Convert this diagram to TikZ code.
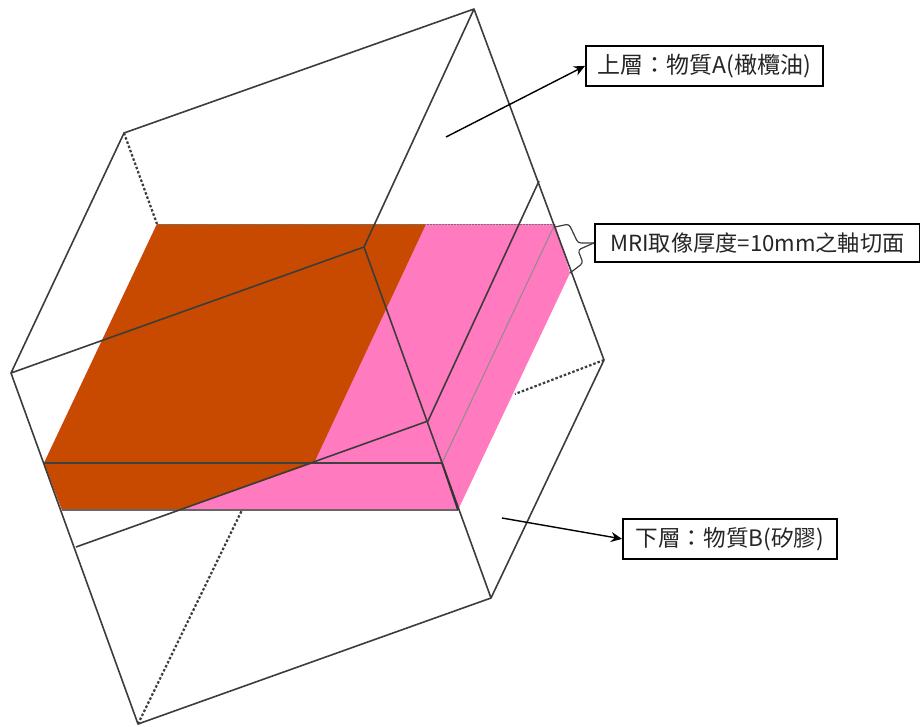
\documentclass[tikz,border=0pt]{standalone}
\usepackage{fontspec}
\setmainfont{Liberation Sans}
\newfontfamily\cjk{Noto Sans CJK TC}
\usetikzlibrary{arrows.meta}
\definecolor{rust}{HTML}{C84A00}
\definecolor{rosa}{HTML}{FF7ABF}
\definecolor{edgeg}{HTML}{3C3C3C}
\tikzset{
  cubeedge/.style={draw=edgeg,line width=1.6pt,line join=round},
  hiddenedge/.style={draw=edgeg,line width=2.2pt,dash pattern=on 2.5pt off 2pt},
  labelbox/.style={draw=black,line width=1.8pt,fill=white,inner sep=0pt,anchor=north west,text=black!85,font=\cjk},
  leader/.style={draw=black,line width=1.4pt,-{Stealth[length=11pt,width=10pt]}}
}
\begin{document}
\begin{tikzpicture}[x=1pt,y=-1pt]
\useasboundingbox (0,0) rectangle (920,726);
% cube corners
\coordinate (tA) at (474,9);
\coordinate (tB) at (124,133);
\coordinate (tC) at (11,373);
\coordinate (tD) at (364,247);
\coordinate (bA) at (604,360);
\coordinate (bC) at (138,724);
\coordinate (bD) at (491,598);
\coordinate (mC) at (76,547);
\coordinate (mD) at (428,421);
\coordinate (mA) at (539,181);
% slab corners
\coordinate (sTL) at (157,224);
\coordinate (sTM) at (426,224);
\coordinate (sTR) at (555,224);
\coordinate (sFL) at (44,463);
\coordinate (sFM) at (314,463);
\coordinate (sFR) at (442,463);
\coordinate (sBL) at (62,510);
\coordinate (sBM) at (180,510);
\coordinate (sBR) at (458,510);
\coordinate (sRR) at (570,273);
% slab
\fill[rosa] (sTL) -- (sTR) -- (sRR) -- (sBR) -- (sBL) -- (sFL) -- cycle;
\fill[rust] (sTL) -- (sTM) -- (sFM) -- (sBM) -- (sBL) -- (sFL) -- cycle;
\draw[black!55,line width=0.8pt,dash pattern=on 1.5pt off 1.5pt] (sTL) -- (sTR);
\draw[black!45,line width=1pt] (sTR) -- (sFR);
\draw[black!60,line width=1.5pt] (sBL) -- (sBR);
\draw[black!75,line width=1.8pt] (sFL) -- (sFR);
% hidden edges
\draw[hiddenedge] (tB) -- (sTL);
\draw[hiddenedge] (bA) -- (515,394);
\draw[hiddenedge] (bC) -- (242,510);
% cube edges
\draw[cubeedge] (tA) -- (tB) -- (tC) -- (tD) -- cycle;
\draw[cubeedge] (tC) -- (bC) -- (bD) -- (bA) -- (tA);
\draw[cubeedge] (tD) -- (bD);
\draw[cubeedge] (mC) -- (mD) -- (mA);
\draw[black!80,line width=1.8pt] (sFR) -- (sBR);
% labels
\node[labelbox,minimum width=237pt,minimum height=40pt] (upper) at (585,45) {\fontsize{23}{26}\selectfont 上層：物質A(橄欖油)};
\node[labelbox,minimum width=325pt,minimum height=38pt] (slice) at (594,223) {\fontsize{22.2}{26}\selectfont MRI取像厚度=10mm之軸切面};
\node[labelbox,minimum width=214pt,minimum height=40pt] (lower) at (622,518) {\fontsize{22.6}{26}\selectfont 下層：物質B(矽膠)};
% leaders
\coordinate (upStart) at (446,137);
\coordinate (lowStart) at (502,518);
\draw[leader] (upStart) -- (upper.west);
\draw[leader] (lowStart) -- (lower.west);
% brace
\draw[edgeg,line width=1.2pt,rounded corners=3pt] (sTR) ++(0,3) -- (569,224) -- (578,243) -- (slice.west);
\draw[edgeg,line width=1.2pt,rounded corners=3pt] (slice.west) -- (578,250) -- (583,263) -- (sRR);
\end{tikzpicture}
\end{document}
